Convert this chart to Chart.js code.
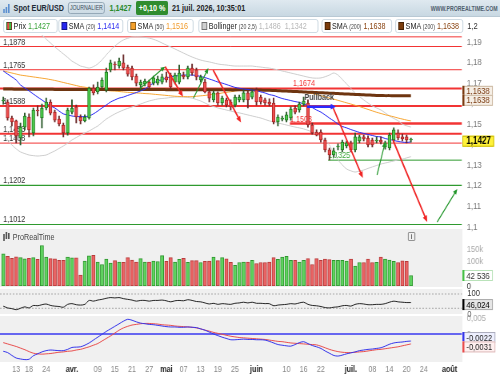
<!DOCTYPE html>
<html>
<head>
<meta charset="utf-8">
<title>Spot EUR/USD</title>
<script src="https://cdn.jsdelivr.net/npm/chart.js"></script>
<style>
  html, body { margin: 0; padding: 0; background: #fff; overflow: hidden; width: 500px; height: 375px; }
  /* the reference is horizontally squeezed, so the page is laid out 625 wide and scaled to 500 */
  #page { position: absolute; left: 0; top: 0; width: 625px; height: 375px; transform: scaleX(0.8); transform-origin: 0 0;
          font-family: "Liberation Sans", Arial, sans-serif; color: #222; }
  .abs { position: absolute; white-space: nowrap; }
  .lg { position: absolute; top: 19px; height: 14px; box-sizing: border-box; border: 1px solid #c9d7e0; border-radius: 3px;
        background: #fff; font-size: 9px; line-height: 12px; padding-left: 3px; white-space: nowrap; overflow: hidden; }
  .sq { display: inline-block; width: 7px; height: 8px; box-sizing: border-box; border: 1px solid rgba(0,0,0,.45);
        vertical-align: -1px; margin-right: 2px; }
  .sm { font-size: 6.5px; color: #444; }
  .ax { position: absolute; left: 584px; font-size: 9.5px; color: #333; white-space: nowrap; }
  canvas { position: absolute; left: 0; }
</style>
</head>
<body>
<div id="page">
  <!-- header -->
  <div class="abs" style="left:0;top:0;width:625px;height:16px;background:linear-gradient(#dfe9f0,#c8d8e2);border-bottom:1px solid #b9c9d4"></div>
  <div class="abs" style="left:4px;top:9px;width:1.5px;height:4px;background:#5b8fd0"></div>
  <div class="abs" style="left:7px;top:7px;width:1.5px;height:6px;background:#5b8fd0"></div>
  <div class="abs" style="left:10px;top:4px;width:1.5px;height:9px;background:#5b8fd0"></div>
  <div class="abs" style="left:17px;top:3px;font-size:9px;font-weight:bold;color:#1e2b36">Spot EUR/USD</div>
  <div class="abs" style="left:85px;top:2px;width:46px;height:12px;box-sizing:border-box;border:1px solid #8ea3b2;border-radius:3px;font-size:6.5px;line-height:10px;text-align:center;color:#3b4d5c">JOURNALIER</div>
  <div class="abs" style="left:137px;top:3px;font-size:9px;font-weight:bold;color:#2a8a2a">1,1427</div>
  <div class="abs" style="left:170px;top:1px;width:40px;height:14px;background:#2f8c2f;border-radius:2px;color:#fff;font-size:9px;font-weight:bold;line-height:14px;text-align:center">+0,10 %</div>
  <div class="abs" style="left:215px;top:3px;font-size:9px;font-weight:bold;color:#222">21 juil. 2026, 10:35:01</div>
  <div class="abs" style="right:3px;top:5px;font-size:6.5px;font-weight:bold;color:#50606e">WWW.PROREALTIME.COM</div>

  <!-- legend -->
  <div class="lg" style="left:4px;width:68px"><span class="sq" style="background:linear-gradient(90deg,#e84a4a 50%,#3fbf3f 50%)"></span>Prix <span style="color:#37a337">1,1427</span></div>
  <div class="lg" style="left:73px;width:81px"><span class="sq" style="background:#2525f0"></span>SMA <span class="sm">(20)</span> <span style="color:#2a2af0">1,1414</span></div>
  <div class="lg" style="left:159px;width:83px"><span class="sq" style="background:#f5a02a"></span>SMA <span class="sm">(50)</span> <span style="color:#f09a2a">1,1516</span></div>
  <div class="lg" style="left:248px;width:150px"><span class="sq" style="background:#d0d0d0"></span>Bollinger <span class="sm">(20 2,5)</span> <span style="color:#b8b8b8">1,1486&nbsp; 1,1342</span></div>
  <div class="lg" style="left:402px;width:88px"><span class="sq" style="background:#7b3c0c"></span>SMA <span class="sm">(200)</span> <span style="color:#8b4513">1,1638</span></div>
  <div class="lg" style="left:494px;width:85px"><span class="sq" style="background:#7b3c0c"></span>SMA <span class="sm">(200)</span> <span style="color:#8b4513">1,1638</span></div>
  <div class="ax" style="top:20px">1,2</div>

  <!-- lower panels background -->
  <div class="abs" style="left:0;top:229px;width:577.5px;height:58px;background:#f0f0f0"></div>
  <div class="abs" style="left:0;top:289px;width:577.5px;height:25px;background:#f0f0f0"></div>
  <div class="abs" style="left:0;top:316px;width:577.5px;height:46px;background:#f0f0f0"></div>
  <div class="abs" style="left:4px;top:234px;width:1.5px;height:7px;background:#555"></div>
  <div class="abs" style="left:7px;top:232px;width:1.5px;height:7px;background:#555"></div>
  <div class="abs" style="left:10px;top:233px;width:1.5px;height:6px;background:#555"></div>
  <div class="abs" style="left:16px;top:232px;font-size:9px;color:#444">ProRealTime</div>
  <div class="abs" style="left:510px;top:232px;width:9px;height:9px;box-sizing:border-box;border:1px solid #888;border-radius:1px;font-size:7px;line-height:7px;text-align:center;color:#555;font-weight:bold">i</div>

  <canvas id="cPrice" width="625" height="215" style="top:25px"></canvas>
  <canvas id="cVol" width="625" height="52" style="top:238px"></canvas>
  <canvas id="cRsi" width="625" height="31" style="top:286px"></canvas>
  <canvas id="cMacd" width="625" height="63" style="top:312px"></canvas>

  <div class="ax" style="top:287px">100</div>
  <div class="ax" style="top:308px;color:#666">0</div>
</div>

<script>
// trading days 10 March 2026 .. 21 July 2026, day index 0..95
const tickDays = [3, 6, 10, 16, 22, 26, 30, 34, 38, 42, 46, 50, 54, 59, 66, 70, 74, 81, 86, 90, 94, 98, 104];
const tickLabels = ['13', '18', '24', 'avr.', '09', '15', '21', '27', 'mai', '07', '13', '19', '25', 'juin', '10', '16', '22', 'juil.', '08', '14', '20', '24', 'août'];
const priceTicks = [1.1, 1.11, 1.12, 1.13, 1.14, 1.15, 1.16, 1.17, 1.18, 1.19];
const volumeTicks = [0, 100000, 150000];
const macdTicks = [0, 0.005];

const open = [1.1613,1.1608,1.1530,1.1516,1.1433,1.1486,1.1535,1.1457,1.1569,1.1530,
  1.1579,1.1608,1.1559,1.1525,1.1496,1.1457,1.1559,1.1584,1.1535,1.1516,
  1.1530,1.1676,1.1657,1.1681,1.1666,1.1764,1.1793,1.1783,1.1798,1.1778,
  1.1773,1.1734,1.1691,1.1696,1.1705,1.1700,1.1700,1.1705,1.1730,1.1739,
  1.1705,1.1705,1.1739,1.1730,1.1773,1.1764,1.1715,1.1705,1.1657,1.1618,
  1.1652,1.1603,1.1618,1.1608,1.1593,1.1618,1.1618,1.1652,1.1632,1.1666,
  1.1632,1.1618,1.1608,1.1603,1.1511,1.1525,1.1520,1.1530,1.1579,1.1569,
  1.1598,1.1603,1.1496,1.1462,1.1462,1.1423,1.1375,1.1350,1.1389,1.1375,
  1.1394,1.1409,1.1375,1.1418,1.1438,1.1433,1.1423,1.1418,1.1423,1.1389,
  1.1384,1.1423,1.1457,1.1438,1.1438,1.1423];
const high = [1.1632,1.1618,1.1540,1.1520,1.1506,1.1554,1.1550,1.1579,1.1589,1.1598,
  1.1627,1.1618,1.1569,1.1540,1.1506,1.1579,1.1618,1.1593,1.1545,1.1545,
  1.1681,1.1691,1.1705,1.1725,1.1773,1.1812,1.1803,1.1822,1.1837,1.1788,
  1.1783,1.1744,1.1715,1.1720,1.1715,1.1734,1.1734,1.1744,1.1754,1.1749,
  1.1749,1.1788,1.1754,1.1783,1.1793,1.1773,1.1739,1.1720,1.1666,1.1662,
  1.1657,1.1637,1.1627,1.1618,1.1642,1.1642,1.1666,1.1662,1.1666,1.1676,
  1.1642,1.1627,1.1623,1.1627,1.1545,1.1540,1.1559,1.1584,1.1589,1.1608,
  1.1632,1.1618,1.1506,1.1472,1.1472,1.1433,1.1384,1.1384,1.1404,1.1423,
  1.1418,1.1418,1.1457,1.1447,1.1447,1.1443,1.1433,1.1438,1.1438,1.1418,
  1.1457,1.1482,1.1472,1.1452,1.1447,1.1433];
const low = [1.1598,1.1520,1.1491,1.1409,1.1399,1.1472,1.1438,1.1443,1.1540,1.1482,
  1.1569,1.1545,1.1511,1.1491,1.1438,1.1447,1.1550,1.1506,1.1501,1.1511,
  1.1525,1.1642,1.1647,1.1676,1.1657,1.1754,1.1764,1.1773,1.1764,1.1734,
  1.1715,1.1686,1.1666,1.1686,1.1671,1.1691,1.1691,1.1696,1.1705,1.1671,
  1.1696,1.1696,1.1720,1.1720,1.1739,1.1715,1.1705,1.1652,1.1608,1.1608,
  1.1593,1.1593,1.1584,1.1569,1.1584,1.1608,1.1608,1.1579,1.1623,1.1593,
  1.1598,1.1593,1.1589,1.1501,1.1491,1.1516,1.1511,1.1520,1.1550,1.1559,
  1.1589,1.1486,1.1452,1.1443,1.1413,1.1365,1.1326,1.1340,1.1375,1.1365,
  1.1384,1.1365,1.1365,1.1409,1.1418,1.1389,1.1389,1.1409,1.1404,1.1379,
  1.1375,1.1413,1.1423,1.1418,1.1409,1.1413];
const close = [1.1615,1.1530,1.1511,1.1443,1.1486,1.1540,1.1472,1.1569,1.1564,1.1579,
  1.1608,1.1554,1.1520,1.1501,1.1457,1.1569,1.1579,1.1535,1.1516,1.1535,
  1.1676,1.1652,1.1681,1.1715,1.1754,1.1798,1.1788,1.1807,1.1773,1.1744,
  1.1730,1.1700,1.1705,1.1710,1.1681,1.1725,1.1720,1.1730,1.1715,1.1681,
  1.1739,1.1749,1.1730,1.1773,1.1749,1.1730,1.1730,1.1657,1.1627,1.1652,
  1.1603,1.1627,1.1593,1.1584,1.1632,1.1632,1.1652,1.1618,1.1657,1.1608,
  1.1608,1.1603,1.1598,1.1511,1.1535,1.1530,1.1545,1.1574,1.1559,1.1598,
  1.1613,1.1496,1.1457,1.1447,1.1423,1.1375,1.1350,1.1370,1.1391,1.1413,
  1.1409,1.1375,1.1438,1.1438,1.1428,1.1399,1.1399,1.1423,1.1413,1.1409,
  1.1447,1.1472,1.1433,1.1428,1.1423,1.1427];
const volume = [130000,120000,112000,118000,115000,110000,112000,115000,108000,164000,
  117000,111000,110000,104000,104000,117000,114000,114000,44000,101000,
  122000,124000,97000,87000,109000,93000,103000,97000,96000,115000,
  105000,97000,111000,97000,97000,101000,99000,123000,100000,115000,
  97000,108000,112000,96000,103000,103000,95000,100000,101000,117000,
  103000,115000,110000,96000,84000,95000,97000,97000,104000,91000,
  95000,95000,97000,115000,108000,117000,120000,104000,104000,97000,
  104000,111000,87000,111000,104000,109000,107000,104000,104000,104000,
  101000,109000,81000,95000,95000,109000,95000,96000,117000,109000,
  105000,100000,95000,102000,100000,42536];

const sma20 = [1.1759,1.1744,1.1730,1.1715,1.1691,1.1676,1.1662,1.1647,1.1632,1.1618,
  1.1603,1.1589,1.1579,1.1564,1.1550,1.1545,1.1540,1.1537,1.1537,1.1537,
  1.1540,1.1550,1.1564,1.1579,1.1593,1.1608,1.1618,1.1627,1.1632,1.1640,
  1.1647,1.1654,1.1662,1.1671,1.1686,1.1700,1.1710,1.1717,1.1725,1.1730,
  1.1734,1.1737,1.1739,1.1739,1.1739,1.1737,1.1732,1.1727,1.1720,1.1713,
  1.1705,1.1700,1.1693,1.1686,1.1679,1.1675,1.1671,1.1669,1.1666,1.1664,
  1.1657,1.1652,1.1644,1.1640,1.1632,1.1625,1.1620,1.1615,1.1610,1.1606,
  1.1598,1.1591,1.1581,1.1569,1.1559,1.1545,1.1530,1.1516,1.1501,1.1489,
  1.1482,1.1474,1.1467,1.1460,1.1455,1.1450,1.1445,1.1440,1.1438,1.1430,
  1.1426,1.1421,1.1416,1.1413,1.1411,1.1414];
const sma50 = [1.1759,1.1754,1.1749,1.1744,1.1739,1.1736,1.1733,1.1730,1.1727,1.1724,
  1.1721,1.1717,1.1713,1.1708,1.1703,1.1698,1.1693,1.1688,1.1683,1.1680,
  1.1676,1.1673,1.1670,1.1667,1.1665,1.1662,1.1661,1.1659,1.1657,1.1655,
  1.1654,1.1652,1.1651,1.1649,1.1648,1.1646,1.1644,1.1642,1.1640,1.1638,
  1.1636,1.1635,1.1634,1.1634,1.1634,1.1636,1.1638,1.1640,1.1643,1.1646,
  1.1648,1.1652,1.1655,1.1658,1.1661,1.1664,1.1665,1.1666,1.1666,1.1666,
  1.1666,1.1665,1.1664,1.1663,1.1662,1.1661,1.1661,1.1660,1.1659,1.1658,
  1.1656,1.1653,1.1649,1.1644,1.1639,1.1633,1.1627,1.1622,1.1616,1.1610,
  1.1604,1.1598,1.1592,1.1586,1.1579,1.1572,1.1565,1.1558,1.1552,1.1546,
  1.1541,1.1536,1.1530,1.1525,1.1520,1.1516];
const sma200 = [1.1671,1.1671,1.1671,1.1670,1.1670,1.1670,1.1670,1.1670,1.1670,1.1670,
  1.1670,1.1670,1.1669,1.1669,1.1669,1.1669,1.1669,1.1669,1.1669,1.1669,
  1.1669,1.1669,1.1669,1.1669,1.1669,1.1669,1.1669,1.1669,1.1669,1.1669,
  1.1669,1.1669,1.1669,1.1669,1.1669,1.1669,1.1669,1.1669,1.1668,1.1668,
  1.1668,1.1668,1.1668,1.1668,1.1668,1.1668,1.1668,1.1668,1.1668,1.1668,
  1.1668,1.1668,1.1668,1.1667,1.1667,1.1667,1.1667,1.1667,1.1667,1.1666,
  1.1666,1.1665,1.1665,1.1664,1.1663,1.1662,1.1661,1.1660,1.1659,1.1658,
  1.1657,1.1656,1.1655,1.1654,1.1653,1.1652,1.1651,1.1650,1.1649,1.1648,
  1.1647,1.1646,1.1645,1.1644,1.1643,1.1642,1.1641,1.1640,1.1640,1.1639,
  1.1639,1.1638,1.1638,1.1638,1.1638,1.1638];
const bollUpper = [1.2007,1.1995,1.1985,1.1980,1.1978,1.1970,1.1963,1.1958,1.1946,1.1934,
  1.1914,1.1895,1.1876,1.1859,1.1842,1.1825,1.1807,1.1795,1.1783,1.1778,
  1.1773,1.1780,1.1793,1.1813,1.1837,1.1860,1.1880,1.1897,1.1910,1.1918,
  1.1924,1.1925,1.1924,1.1922,1.1919,1.1913,1.1905,1.1895,1.1885,1.1876,
  1.1866,1.1856,1.1846,1.1836,1.1827,1.1819,1.1812,1.1807,1.1803,1.1798,
  1.1793,1.1790,1.1788,1.1785,1.1783,1.1783,1.1783,1.1783,1.1783,1.1780,
  1.1778,1.1775,1.1773,1.1769,1.1764,1.1759,1.1754,1.1749,1.1744,1.1739,
  1.1734,1.1729,1.1725,1.1724,1.1725,1.1731,1.1739,1.1749,1.1739,1.1718,
  1.1696,1.1674,1.1652,1.1635,1.1618,1.1603,1.1589,1.1579,1.1569,1.1555,
  1.1540,1.1528,1.1517,1.1500,1.1492,1.1486];
const bollLower = [1.1447,1.1423,1.1399,1.1380,1.1365,1.1357,1.1350,1.1347,1.1345,1.1347,
  1.1350,1.1360,1.1370,1.1382,1.1394,1.1408,1.1423,1.1435,1.1447,1.1457,
  1.1467,1.1479,1.1491,1.1508,1.1525,1.1538,1.1550,1.1560,1.1569,1.1577,
  1.1584,1.1591,1.1598,1.1606,1.1613,1.1618,1.1623,1.1625,1.1627,1.1630,
  1.1632,1.1632,1.1632,1.1630,1.1627,1.1620,1.1613,1.1603,1.1593,1.1586,
  1.1579,1.1574,1.1569,1.1564,1.1559,1.1555,1.1550,1.1545,1.1540,1.1535,
  1.1530,1.1523,1.1516,1.1511,1.1506,1.1501,1.1496,1.1491,1.1486,1.1482,
  1.1477,1.1470,1.1462,1.1450,1.1438,1.1420,1.1399,1.1360,1.1326,1.1302,
  1.1282,1.1273,1.1267,1.1272,1.1277,1.1285,1.1292,1.1299,1.1306,1.1311,
  1.1316,1.1321,1.1326,1.1330,1.1336,1.1342];

const rsi = [36,31,29,26,30,34,31,38,37,40,
  42,38,36,35,33,41,43,40,39,41,
  52,50,53,55,58,60,59,60,57,55,
  53,50,52,52,50,52,52,53,51,48,
  51,52,51,54,52,49,48,45,42,44,
  41,43,42,41,44,45,47,45,47,44,
  44,43,43,37,39,40,41,43,42,45,
  47,41,38,37,35,32,31,33,34,37,
  38,36,41,43,42,40,40,41,41,43,
  47,50,48,47,46,46.024];
const rsiLevels = [70, 30];
const macd = [-0.0054,-0.0058,-0.0067,-0.0075,-0.0078,-0.0080,-0.0079,-0.0068,-0.0062,-0.0056,
  -0.0052,-0.0050,-0.0051,-0.0052,-0.0052,-0.0048,-0.0042,-0.0041,-0.0040,-0.0035,
  -0.0028,-0.0019,-0.0010,-0.0001,0.0008,0.0016,0.0024,0.0032,0.0040,0.0046,
  0.0043,0.0038,0.0034,0.0032,0.0030,0.0029,0.0027,0.0025,0.0023,0.0022,
  0.0022,0.0021,0.0021,0.0022,0.0021,0.0020,0.0016,0.0012,0.0006,0.0000,
  -0.0005,-0.0010,-0.0014,-0.0018,-0.0018,-0.0017,-0.0016,-0.0017,-0.0017,-0.0018,
  -0.0018,-0.0019,-0.0023,-0.0028,-0.0033,-0.0035,-0.0037,-0.0038,-0.0033,-0.0027,
  -0.0024,-0.0030,-0.0036,-0.0040,-0.0045,-0.0053,-0.0060,-0.0067,-0.0069,-0.0066,
  -0.0062,-0.0059,-0.0056,-0.0052,-0.0050,-0.0048,-0.0047,-0.0045,-0.0043,-0.0038,
  -0.0032,-0.0028,-0.0026,-0.0025,-0.0023,-0.0022];
const macdSignal = [-0.0027,-0.0031,-0.0035,-0.0039,-0.0044,-0.0049,-0.0055,-0.0060,-0.0062,-0.0063,
  -0.0062,-0.0061,-0.0059,-0.0057,-0.0056,-0.0054,-0.0053,-0.0050,-0.0048,-0.0044,
  -0.0040,-0.0035,-0.0030,-0.0022,-0.0014,-0.0006,0.0003,0.0012,0.0019,0.0024,
  0.0028,0.0030,0.0032,0.0033,0.0033,0.0032,0.0031,0.0029,0.0028,0.0027,
  0.0025,0.0024,0.0023,0.0022,0.0021,0.0019,0.0016,0.0012,0.0009,0.0005,
  0.0002,-0.0001,-0.0004,-0.0007,-0.0009,-0.0011,-0.0012,-0.0013,-0.0014,-0.0015,
  -0.0016,-0.0017,-0.0019,-0.0021,-0.0023,-0.0024,-0.0026,-0.0028,-0.0029,-0.0030,
  -0.0031,-0.0032,-0.0033,-0.0034,-0.0038,-0.0043,-0.0048,-0.0052,-0.0055,-0.0057,
  -0.0058,-0.0058,-0.0057,-0.0056,-0.0055,-0.0053,-0.0051,-0.0049,-0.0048,-0.0046,
  -0.0044,-0.0042,-0.0040,-0.0037,-0.0034,-0.0031];

// horizontal levels drawn on the price panel
const levelPrices = [1.1925, 1.1878, 1.1765, 1.1674, 1.1588, 1.1503, 1.1453, 1.1408, 1.1325, 1.1202, 1.1012];
const levelNames = ['', '1,1878', '1,1765', '1,1674', '1,1588', '1,1503', '1,1453', '1,1408', '1,1325', '1,1202', '1,1012'];
const levelFromDay = [null, null, null, null, null, 66.8, null, null, 75.7, null, null];

// trend arrows [day, price]
const arrowStart = [[31.9, 1.1675], [44.3, 1.1626], [87.1, 1.1253], [101.1, 1.1024],
  [37.7, 1.1780], [48.9, 1.1764], [76.6, 1.1593], [90.8, 1.1423], [70.8, 1.1585]];
const arrowEnd = [[37.7, 1.1780], [47.8, 1.1773], [89.0, 1.1413], [105.8, 1.1185],
  [41.9, 1.1634], [55.4, 1.1508], [83.8, 1.1238], [98.8, 1.1024], [77.5, 1.1585]];
const arrowKind = ['up', 'up', 'up', 'up', 'down', 'down', 'down', 'down', 'pullback'];

// ---- layout / style ----
const FONT = '"Liberation Sans", Arial, sans-serif';
const AXIS_W = 47.5;
const X_MIN = -0.77, X_MAX = 106.9;
const GREEN = '#4ccb4c', GREEN_D = '#1f7a1f', RED = '#ee4e4e', RED_D = '#a82424';
const days = open.map((_, i) => i);
const isUp = i => close[i] >= open[i];
const fmtTick = v => String(+v.toFixed(3)).replace('.', ',');
const fmt4 = v => v.toFixed(4).replace('.', ',');

function hlines(items) {
  return {
    id: 'hlines',
    beforeDatasetsDraw(chart) {
      const {ctx, chartArea: a, scales: {x, y}} = chart;
      ctx.save();
      ctx.beginPath(); ctx.rect(a.left, a.top, a.right - a.left, a.bottom - a.top); ctx.clip();
      items.forEach(it => {
        const py = y.getPixelForValue(it.value);
        const x0 = it.from == null ? a.left : x.getPixelForValue(it.from);
        ctx.strokeStyle = it.color; ctx.lineWidth = it.width; ctx.setLineDash(it.dash || []);
        ctx.beginPath(); ctx.moveTo(x0, py); ctx.lineTo(a.right, py); ctx.stroke();
        if (it.label) {
          ctx.setLineDash([]);
          ctx.fillStyle = it.labelColor; ctx.font = '9px ' + FONT;
          ctx.textAlign = 'left'; ctx.textBaseline = 'alphabetic';
          const lx = it.labelDay == null ? a.left + 4 : x.getPixelForValue(it.labelDay);
          ctx.fillText(it.label, lx, py - 2);
        }
      });
      ctx.restore();
    }
  };
}

function arrows(items, notes) {
  return {
    id: 'arrows',
    afterDatasetsDraw(chart) {
      const {ctx, chartArea: a, scales: {x, y}} = chart;
      ctx.save();
      ctx.beginPath(); ctx.rect(a.left, a.top, a.right - a.left, a.bottom - a.top); ctx.clip();
      items.forEach(it => {
        const x0 = x.getPixelForValue(it.from[0]), y0 = y.getPixelForValue(it.from[1]);
        const x1 = x.getPixelForValue(it.to[0]), y1 = y.getPixelForValue(it.to[1]);
        const ang = Math.atan2(y1 - y0, x1 - x0), h = it.head;
        ctx.strokeStyle = it.color; ctx.fillStyle = it.color; ctx.lineWidth = it.width;
        ctx.beginPath(); ctx.moveTo(x0, y0);
        ctx.lineTo(x1 - Math.cos(ang) * h * 0.7, y1 - Math.sin(ang) * h * 0.7); ctx.stroke();
        ctx.beginPath(); ctx.moveTo(x1, y1);
        ctx.lineTo(x1 - h * Math.cos(ang - 0.42), y1 - h * Math.sin(ang - 0.42));
        ctx.lineTo(x1 - h * Math.cos(ang + 0.42), y1 - h * Math.sin(ang + 0.42));
        ctx.closePath(); ctx.fill();
      });
      notes.forEach(n => {
        ctx.fillStyle = '#444'; ctx.font = 'bold 9px ' + FONT;
        ctx.textAlign = 'center'; ctx.textBaseline = 'middle';
        ctx.fillText(n.text, x.getPixelForValue(n.day), y.getPixelForValue(n.price));
      });
      ctx.restore();
    }
  };
}

function tags(items) {
  return {
    id: 'tags',
    afterDraw(chart) {
      const {ctx, chartArea: a, scales: {y}} = chart;
      ctx.save();
      items.forEach(t => {
        const cy = y.getPixelForValue(t.value) + (t.dy || 0);
        ctx.font = (t.bold ? 'bold ' : '') + (t.size || 9.5) + 'px ' + FONT;
        const w = ctx.measureText(t.text).width + 9, h = 11;
        const x0 = a.right + 0.5;
        ctx.fillStyle = t.bg; ctx.fillRect(x0, cy - h / 2, w, h);
        ctx.strokeStyle = t.border; ctx.lineWidth = 1;
        ctx.strokeRect(x0 + 0.5, cy - h / 2 + 0.5, w - 1, h - 1);
        if (t.mark) { ctx.fillStyle = t.mark; ctx.fillRect(x0, cy - h / 2, 2.5, h); }
        ctx.fillStyle = t.color; ctx.textAlign = 'left'; ctx.textBaseline = 'middle';
        ctx.fillText(t.text, x0 + 5, cy + 0.5);
      });
      ctx.restore();
    }
  };
}

function xAxis(show) {
  const isMonth = k => isNaN(parseInt(tickLabels[k], 10));
  const cfg = {
    type: 'linear', min: X_MIN, max: X_MAX, offset: false, display: show,
    grid: {display: false, drawTicks: false}, border: {display: false},
    afterBuildTicks: s => { s.ticks = tickDays.map(v => ({value: v})); },
    ticks: {
      autoSkip: false, maxRotation: 0, padding: 2,
      callback: v => tickLabels[tickDays.indexOf(v)],
      color: c => isMonth(c.index) ? '#222' : '#888',
      font: c => ({family: FONT, size: 9, weight: isMonth(c.index) ? 'bold' : 'normal'})
    }
  };
  if (show) cfg.afterFit = s => { s.height = 13; s.paddingLeft = 0; s.paddingRight = 0; };
  return cfg;
}

function yAxis(extra) {
  return Object.assign({
    position: 'right',
    grid: {display: false, drawTicks: false}, border: {display: false},
    afterFit: s => { s.width = AXIS_W; s.paddingTop = 0; s.paddingBottom = 0; }
  }, extra);
}

function baseOptions(padTop, padBottom, xShow, y) {
  return {
    responsive: false, animation: false, devicePixelRatio: 1,
    layout: {padding: {top: padTop, bottom: padBottom, left: 0, right: 0}},
    plugins: {legend: {display: false}, tooltip: {enabled: false}},
    scales: {x: xAxis(xShow), y: y}
  };
}

const lineSet = (values, color, width, order) => ({
  type: 'line', data: days.map(i => ({x: i, y: values[i]})),
  borderColor: color, borderWidth: width, pointRadius: 0, tension: 0.3, order: order
});

// ---- price panel ----
const levelItems = levelPrices.map((p, k) => ({
  value: p,
  from: levelFromDay[k],
  color: k >= 8 ? '#2f9a2f' : '#f23434',
  width: [1, 1, 1, 2, 2, 2.5, 2, 1, 1, 1.2, 1.2][k],
  label: levelNames[k],
  labelColor: (k === 3 || k === 5) ? '#f23434' : (k === 8 ? '#3aa63a' : '#333'),
  labelDay: k === 3 ? 67.5 : levelFromDay[k]
}));
const arrowStyle = {
  up: {color: '#22962a', width: 1.2, head: 6},
  down: {color: '#f02626', width: 1.8, head: 7},
  pullback: {color: '#2b2bff', width: 2.5, head: 7}
};
const arrowItems = arrowStart.map((s, k) => Object.assign({from: s, to: arrowEnd[k]}, arrowStyle[arrowKind[k]]));

new Chart(document.getElementById('cPrice'), {
  type: 'bar',
  data: {datasets: [
    lineSet(bollUpper, '#cdcdcd', 1, 9),
    lineSet(bollLower, '#cdcdcd', 1, 9),
    lineSet(sma50, '#f7a531', 1, 8),
    lineSet(sma200, '#6e3510', 3, 7),
    lineSet(sma20, '#2b2bf5', 1, 6),
    {type: 'bar', data: days.map(i => ({x: i, y: [low[i], high[i]]})),
     backgroundColor: days.map(i => isUp(i) ? '#2c5a2c' : '#6a2a2a'),
     barThickness: 1.25, grouped: false, order: 2},
    {type: 'bar', data: days.map(i => ({x: i, y: [open[i], close[i]]})),
     backgroundColor: days.map(i => isUp(i) ? GREEN : RED),
     borderColor: days.map(i => isUp(i) ? GREEN_D : RED_D),
     borderWidth: 1, borderSkipped: false, minBarLength: 1,
     barThickness: 3.75, grouped: false, order: 1}
  ]},
  options: baseOptions(10, 11, false, yAxis({
    min: 1.099, max: 1.1934,
    afterBuildTicks: s => { s.ticks = priceTicks.map(v => ({value: v})); },
    ticks: {padding: 6, color: '#777', font: {family: FONT, size: 9.5}, callback: v => fmtTick(v)}
  })),
  plugins: [
    hlines(levelItems),
    arrows(arrowItems, [{text: 'Pullback', day: 73.6, price: 1.1632}]),
    tags([
      {value: sma200[95], text: fmt4(sma200[95]), dy: -4.5, bg: '#f6efe6', border: '#cbb7a0', mark: '#7a3a10', color: '#7a3a10'},
      {value: sma200[95], text: fmt4(sma200[95]), dy: 4.5, bg: '#f6efe6', border: '#cbb7a0', mark: '#7a3a10', color: '#7a3a10'},
      {value: close[95], text: fmt4(close[95]), dy: 2, bg: '#fff23a', border: '#c9b800', color: '#000', bold: true, size: 10}
    ])
  ]
});

// ---- volume panel ----
new Chart(document.getElementById('cVol'), {
  type: 'bar',
  data: {datasets: [{
    data: days.map(i => ({x: i, y: volume[i]})),
    backgroundColor: days.map(i => isUp(i) ? '#5fd35f' : '#ea6464'),
    borderColor: days.map(i => isUp(i) ? '#2e962e' : '#b83a3a'),
    borderWidth: 1, borderSkipped: false, barThickness: 4.2, grouped: false
  }]},
  options: baseOptions(5, 4, false, yAxis({
    min: 0, max: 174000,
    afterBuildTicks: s => { s.ticks = volumeTicks.map(v => ({value: v})); },
    ticks: {padding: 6, font: {family: FONT, size: 9.5},
      color: c => c.tick && c.tick.value === 0 ? '#333' : '#aaa',
      callback: v => v === 0 ? '0' : (v / 1000) + 'k'}
  })),
  plugins: [tags([
    {value: volume[95], text: '42 536', bg: '#fff', border: '#b9e2b9', mark: '#46c046', color: '#333'}
  ])]
});

// ---- RSI panel ----
new Chart(document.getElementById('cRsi'), {
  type: 'line',
  data: {datasets: [lineSet(rsi, '#222', 1, 1)]},
  options: baseOptions(3, 3, false, yAxis({min: 14, max: 84, ticks: {display: false}})),
  plugins: [
    hlines(rsiLevels.map(v => ({value: v, color: '#a8a8a8', width: 1, dash: [2, 2]}))),
    tags([{value: rsi[95], text: String(rsi[95]).replace('.', ','), dy: 2, bg: '#e6e6e6', border: '#aaa', mark: '#000', color: '#000'}])
  ]
});

// ---- MACD panel ----
new Chart(document.getElementById('cMacd'), {
  type: 'line',
  data: {datasets: [
    lineSet(macdSignal, '#e84c4c', 1, 2),
    lineSet(macd, '#3434ea', 1, 1)
  ]},
  options: baseOptions(4, 0, true, yAxis({
    min: -0.00875, max: 0.005625,
    afterBuildTicks: s => { s.ticks = macdTicks.map(v => ({value: v})); },
    ticks: {padding: 6, color: '#aaa', font: {family: FONT, size: 9.5}, callback: v => fmtTick(v)}
  })),
  plugins: [
    hlines([{value: 0, color: '#3838f0', width: 1.5}]),
    tags([
      {value: macd[95], text: fmt4(macd[95]), dy: -3.5, bg: '#eef0ff', border: '#aab', mark: '#3434ea', color: '#222'},
      {value: macdSignal[95], text: fmt4(macdSignal[95]), dy: 3, bg: '#fff0f0', border: '#dbb', mark: '#e84c4c', color: '#222'}
    ])
  ]
});
</script>
</body>
</html>
